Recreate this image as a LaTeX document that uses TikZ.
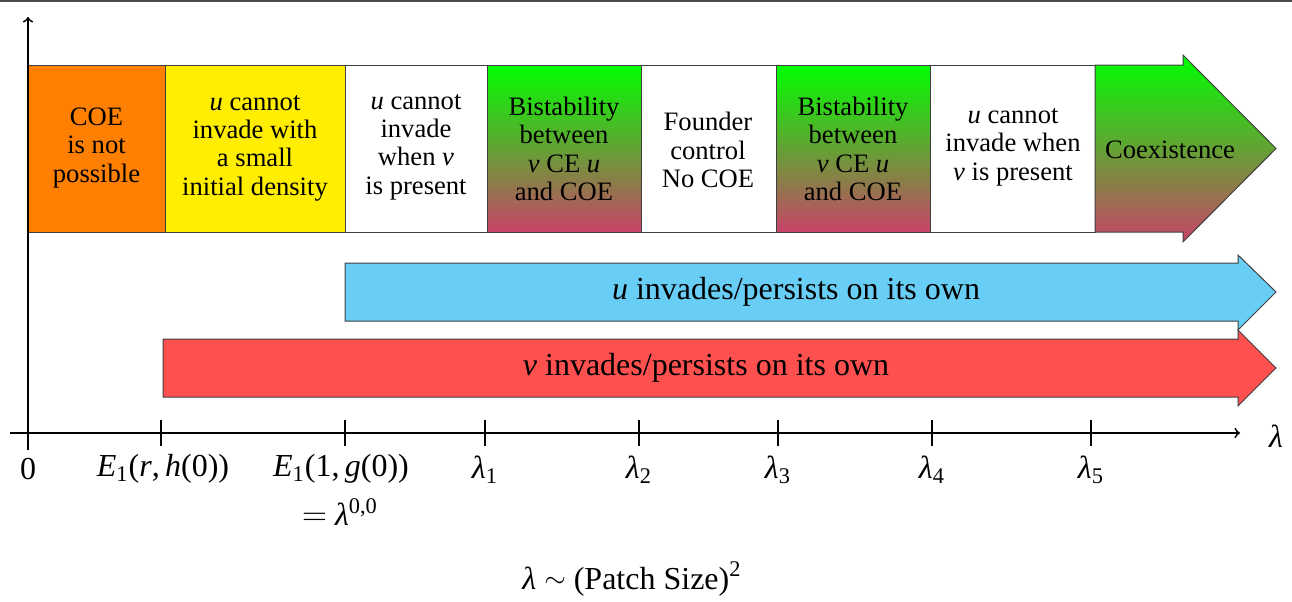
\documentclass[tikz,border=0pt]{standalone}
\usepackage{fontspec}
\setmainfont{Liberation Serif}
\newcommand{\mv}[1]{\textit{#1}}
\newcommand{\lam}{\textit{λ}}
\definecolor{orangeC}{RGB}{255,128,0}
\definecolor{yellowC}{RGB}{255,238,0}
\definecolor{greenC}{RGB}{0,255,0}
\definecolor{pinkC}{RGB}{200,68,105}
\definecolor{blueC}{RGB}{104,206,245}
\definecolor{redC}{RGB}{255,80,80}
\tikzset{
  boxtxt/.style={align=center, font=\fontsize{13.3}{14.2}\selectfont, inner sep=0pt},
  bigtxt/.style={font=\fontsize{16}{19}\selectfont, inner sep=0pt},
  frame/.style={draw=black!75, line width=0.5pt},
  axisline/.style={line width=0.9pt, ->},
  tickline/.style={line width=0.7pt},
  axlab/.style={font=\fontsize{16}{19}\selectfont, inner sep=0pt}
}
\begin{document}
\begin{tikzpicture}[x=0.5pt, y=-0.5pt]
\useasboundingbox (0,0) rectangle (1292,601);
% top rule
\draw[black!70, line width=0.8pt] (0,1.2) -- (1292,1.2);
% top row
\filldraw[frame, fill=orangeC] (28,65) rectangle (165,232);
\filldraw[frame, fill=yellowC] (165,65) rectangle (345,232);
\draw[frame] (345,65) rectangle (487,232);
\shade[top color=greenC, bottom color=pinkC] (487,65) rectangle (641,232);
\draw[frame] (487,65) rectangle (641,232);
\draw[frame] (641,65) rectangle (776,232);
\shade[top color=greenC, bottom color=pinkC] (776,65) rectangle (930,232);
\draw[frame] (776,65) rectangle (930,232);
\draw[frame] (930,65) rectangle (1095,232);
\shade[top color=greenC, bottom color=pinkC, frame] (1095,65) -- (1183,65) -- (1183,55) -- (1276,148.5) -- (1183,242) -- (1183,232) -- (1095,232) -- cycle;
\node[boxtxt] (t1) at (96.5,148) {COE\\is not\\possible};
\node[boxtxt] (t2) at (255,148) {\mv{u} cannot\\invade with\\a small\\initial density};
\node[boxtxt] (t3) at (416,147) {\mv{u} cannot\\invade\\when \mv{v}\\is present};
\node[boxtxt] (t4) at (564,149) {Bistability\\between\\\mv{v} CE \mv{u}\\and COE};
\node[boxtxt] (t5) at (708,150) {Founder\\control\\No COE};
\node[boxtxt] (t6) at (853,149) {Bistability\\between\\\mv{v} CE \mv{u}\\and COE};
\node[boxtxt] (t7) at (1013,147) {\mv{u} cannot\\invade when\\\mv{v} is present};
\node[boxtxt] (t8) at (1170,150) {Coexistence};
% u arrow
\filldraw[frame, fill=blueC] (345,263) -- (1238,263) -- (1238,255) -- (1276,292) -- (1238,330) -- (1238,321) -- (345,321) -- cycle;
\node[bigtxt] (ua) at (796,292) {\mv{u} invades/persists on its own};
% v arrow
\filldraw[frame, fill=redC] (163,339) -- (1238,339) -- (1238,330) -- (1276,368) -- (1238,406) -- (1238,397) -- (163,397) -- cycle;
\node[bigtxt] (va) at (706,368) {\mv{v} invades/persists on its own};
% axes
\coordinate (ybot) at (28,450);
\coordinate (ytop) at (28,17);
\coordinate (xl) at (10,433);
\coordinate (xr) at (1240,433);
\draw[axisline] (ybot) -- (ytop);
\draw[axisline] (xl) -- (xr);
\node[axlab] (lam) at (1276,436) {\lam};
\foreach \x/\n in {28/a,161/b,345/c,485/d,639/e,778/f,932/g,1091/h}{
  \coordinate (tt\n) at (\x,420);
  \coordinate (tb\n) at (\x,446);
  \draw[tickline] (tt\n) -- (tb\n);
}
\node[axlab] (l0) at (28,469) {0};
\node[axlab] (lE1) at (163,469) {\mv{E}\textsubscript{1}(\mv{r},\,\mv{h}(0))};
\node[axlab] (lE2) at (341,469) {\mv{E}\textsubscript{1}(1,\,\mv{g}(0))};
\node[axlab] (lE2b) at (340,512) {$=$ \lam\textsuperscript{0,0}};
\node[axlab] (l1) at (485,470) {\lam\textsubscript{1}};
\node[axlab] (l2) at (639,470) {\lam\textsubscript{2}};
\node[axlab] (l3) at (778,470) {\lam\textsubscript{3}};
\node[axlab] (l4) at (932,470) {\lam\textsubscript{4}};
\node[axlab] (l5) at (1091,470) {\lam\textsubscript{5}};
\node[axlab] (patch) at (632,579) {\lam{} \raisebox{0.15ex}{\scalebox{0.8}{$\sim$}} (Patch Size)\textsuperscript{2}};
\end{tikzpicture}
\end{document}
